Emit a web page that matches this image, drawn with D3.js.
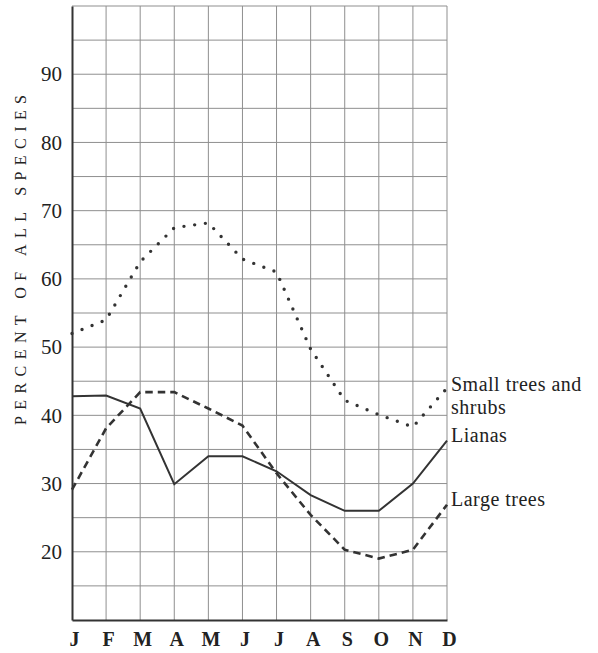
<!DOCTYPE html>
<html>
<head>
<meta charset="utf-8">
<script src="https://cdn.jsdelivr.net/npm/d3@7/dist/d3.min.js"></script>
<style>
  html, body { margin: 0; padding: 0; background: #fff; }
  svg { display: block; }
  text { font-family: "Liberation Serif", "DejaVu Serif", serif; fill: #222; }
</style>
</head>
<body>
<svg id="chart" width="598" height="653"></svg>
<script>
const months = ["J", "F", "M", "A", "M", "J", "J", "A", "S", "O", "N", "D"];
const yTicks = [20, 30, 40, 50, 60, 70, 80, 90];
const smallTrees = [52, 54, 62.5, 67.5, 68.2, 62.9, 61.0, 49.7, 42.2, 40.1, 38.3, 44.0];
const lianas = [42.8, 42.9, 41.0, 29.9, 34.0, 34.0, 31.8, 28.3, 26.0, 26.0, 30.0, 36.3];
const largeTrees = [29.1, 38.1, 43.4, 43.4, 41.0, 38.5, 31.5, 25.4, 20.3, 19.0, 20.3, 26.9];
const seriesLabels = [["Small trees and", "shrubs"], ["Lianas"], ["Large trees"]];
const axisTitle = "PERCENT OF ALL SPECIES";

const svg = d3.select("#chart");
const mLeft = 72, mRight = 447, mTop = 6, mBottom = 620;

const x = d3.scalePoint().domain(d3.range(months.length)).range([mLeft, mRight]);
const y = d3.scaleLinear().domain([10, 100]).range([mBottom, mTop]);

// grid
const grid = svg.append("g");
grid.selectAll("line.v").data(d3.range(1, months.length)).join("line")
  .attr("x1", d => x(d)).attr("x2", d => x(d))
  .attr("y1", y(100)).attr("y2", y(10))
  .attr("stroke", "#8f8f8f").attr("stroke-width", 1);
grid.selectAll("line.h").data(d3.range(15, 101, 5)).join("line")
  .attr("x1", mLeft).attr("x2", mRight)
  .attr("y1", d => y(d)).attr("y2", d => y(d))
  .attr("stroke", "#8f8f8f").attr("stroke-width", 1);

// axes
const yAxis = d3.axisLeft(y).tickValues(yTicks).tickSize(0).tickPadding(10).tickFormat(d3.format("d"));
const gy = svg.append("g").attr("transform", `translate(${mLeft},0)`).call(yAxis);
gy.select(".domain").attr("stroke", "#333").attr("stroke-width", 2);
gy.selectAll("text").attr("font-size", 21).attr("font-family", "Liberation Serif, serif").attr("fill", "#222");

const xAxis = d3.axisBottom(x).tickSize(0).tickPadding(12).tickFormat(i => months[i]);
const gx = svg.append("g").attr("transform", `translate(0,${mBottom})`).call(xAxis);
gx.select(".domain").attr("stroke", "#333").attr("stroke-width", 2);
gx.selectAll("text").attr("font-size", 20).attr("font-family", "Liberation Serif, serif")
  .attr("fill", "#1a1a1a").attr("font-weight", 600).attr("dx", 2);

// axis title
svg.append("text")
  .attr("transform", `translate(25.5,260) rotate(-90)`)
  .attr("text-anchor", "middle")
  .attr("font-size", 16)
  .attr("textLength", 330)
  .attr("lengthAdjust", "spacing")
  .text(axisTitle);

// lines
const line = d3.line().x((d, i) => x(i)).y(d => y(d));
svg.append("path").datum(lianas).attr("d", line)
  .attr("fill", "none").attr("stroke", "#333").attr("stroke-width", 2);
svg.append("path").datum(largeTrees).attr("d", line)
  .attr("fill", "none").attr("stroke", "#333").attr("stroke-width", 2.6)
  .attr("stroke-dasharray", "7.5,5");
svg.append("path").datum(smallTrees).attr("d", line)
  .attr("fill", "none").attr("stroke", "#333").attr("stroke-width", 3.4)
  .attr("stroke-linecap", "round").attr("stroke-dasharray", "0,10.8");

// series labels
const labelY = [y(44) + 3, y(36.3) + 1, y(26.9) + 1.5];
seriesLabels.forEach((lines, k) => {
  lines.forEach((s, j) => {
    svg.append("text").attr("x", 451).attr("y", labelY[k] + j * 22.5)
      .attr("font-size", 20).attr("letter-spacing", 0.5).text(s);
  });
});
</script>
</body>
</html>
